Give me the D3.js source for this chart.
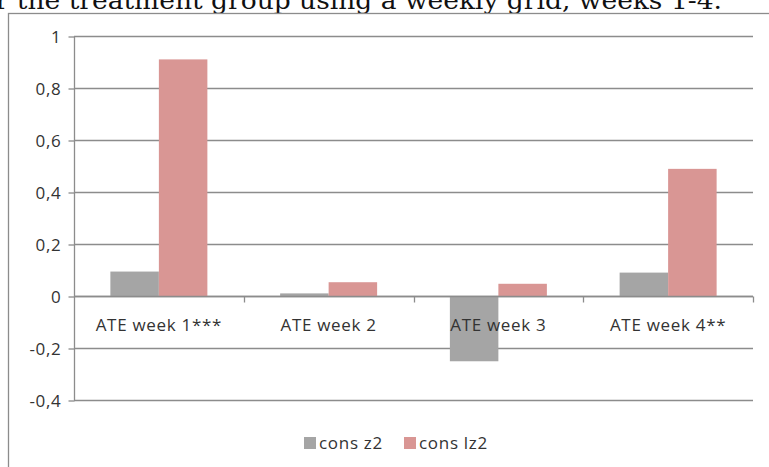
<!DOCTYPE html>
<html>
<head>
  <meta charset="utf-8">
  <title>ATE per week</title>
  <script src="https://d3js.org/d3.v7.min.js"></script>
  <style>
    body { margin: 0; background: #fff; }
    svg { display: block; }
    .lbl { font-family: "Open Sans", sans-serif; font-size: 17px; letter-spacing: 0.7px; fill: #333; }
  </style>
</head>
<body>
  <svg id="main-svg"></svg>

  <script type="text/javascript">
    const svg_width = 769;
    const svg_height = 467;

    // data
    const categories = ["ATE week 1***", "ATE week 2", "ATE week 3", "ATE week 4**"];
    const seriesNames = ["cons z2", "cons lz2"];
    const consZ2 = [0.094, 0.01, -0.251, 0.09];
    const consLz2 = [0.91, 0.053, 0.047, 0.489];
    const yTicks = [-0.4, -0.2, 0, 0.2, 0.4, 0.6, 0.8, 1];
    const colors = ["#a5a5a5", "#d99694"];

    var margin = { top: 36, right: 16, bottom: 67, left: 74 };

    var svg = d3.select("#main-svg")
      .attr("width", svg_width)
      .attr("height", svg_height);

    // caption line from the page above, cut off at the top
    svg.append("text")
      .attr("x", 722)
      .attr("y", 9)
      .attr("text-anchor", "end")
      .style("font-family", "'DejaVu Serif', serif")
      .style("font-size", "25px")
      .style("fill", "#111")
      .attr("textLength", 752)
      .attr("lengthAdjust", "spacingAndGlyphs")
      .text("for the treatment group using a weekly grid, weeks 1-4.");

    // chart frame (runs off the right and bottom edges)
    svg.append("rect")
      .attr("x", 8.5)
      .attr("y", 13.5)
      .attr("width", 800)
      .attr("height", 500)
      .attr("fill", "none")
      .attr("stroke", "#8c8c8c")
      .attr("stroke-width", 1.3);

    var x0 = d3.scaleBand()
      .domain(categories)
      .range([margin.left, svg_width - margin.right]);

    var bw = x0.bandwidth();
    var barW = bw / 3.5; // excel gap width 150%

    var x1 = d3.scaleBand()
      .domain(seriesNames)
      .range([0.75 * barW, bw - 0.75 * barW]);

    var y = d3.scaleLinear()
      .domain([-0.4, 1])
      .range([svg_height - margin.bottom, margin.top]);

    var locale = d3.formatLocale({
      decimal: ",",
      thousands: ".",
      grouping: [3],
      currency: ["", ""],
      minus: "-"
    });
    var fmt = locale.format(".1~f");

    // horizontal grid lines
    svg.append("g")
      .selectAll("line")
      .data(yTicks)
      .enter().append("line")
      .attr("x1", margin.left)
      .attr("x2", svg_width - margin.right)
      .attr("y1", d => Math.round(y(d)) + 0.5)
      .attr("y2", d => Math.round(y(d)) + 0.5)
      .attr("stroke", "#8c8c8c")
      .attr("stroke-width", 1.3);

    // y axis
    var yAxis = d3.axisLeft(y)
      .tickValues(yTicks)
      .tickSize(6)
      .tickPadding(7)
      .tickFormat(fmt);

    var gy = svg.append("g")
      .attr("transform", "translate(" + (margin.left + 0.5) + ",0.5)")
      .call(yAxis);
    gy.select(".domain").attr("stroke", "#8c8c8c").attr("stroke-width", 1.3)
      .attr("d", "M0," + y(1) + "V" + y(-0.4));
    gy.selectAll(".tick line").attr("stroke", "#8c8c8c").attr("stroke-width", 1.3);
    gy.selectAll(".tick text").attr("class", "lbl").attr("dy", "0.35em");

    // bars
    var series = [consZ2, consLz2];
    var groups = svg.append("g")
      .selectAll("g")
      .data(categories)
      .enter().append("g")
      .attr("transform", d => "translate(" + x0(d) + ",0)");

    groups.selectAll("rect")
      .data((c, i) => seriesNames.map((s, k) => ({ s: s, k: k, v: series[k][i] })))
      .enter().append("rect")
      .attr("x", d => x1(d.s))
      .attr("width", x1.bandwidth())
      .attr("y", d => y(Math.max(0, d.v)))
      .attr("height", d => Math.abs(y(d.v) - y(0)))
      .attr("fill", d => colors[d.k]);

    // category axis on the zero line
    var xAxis = d3.axisBottom(x0)
      .tickSize(0)
      .tickPadding(0);

    var gx = svg.append("g")
      .attr("transform", "translate(0," + (Math.round(y(0)) + 0.5) + ")")
      .call(xAxis);
    gx.select(".domain").attr("stroke", "#8c8c8c").attr("stroke-width", 1.3)
      .attr("d", "M" + margin.left + ",0H" + (svg_width - margin.right));
    gx.selectAll(".tick text").attr("class", "lbl").attr("y", 34).attr("dy", 0);

    // tick marks between categories
    gx.selectAll(".sep")
      .data(categories)
      .enter().append("line")
      .attr("class", "sep")
      .attr("x1", d => Math.round(x0(d) + bw) + 0.5)
      .attr("x2", d => Math.round(x0(d) + bw) + 0.5)
      .attr("y1", 0)
      .attr("y2", 6)
      .attr("stroke", "#8c8c8c")
      .attr("stroke-width", 1.3);

    // legend
    var legend = svg.append("g")
      .attr("transform", "translate(304,437)");

    var legendX = [0, 100];
    var item = legend.selectAll("g")
      .data(seriesNames)
      .enter().append("g")
      .attr("transform", (d, i) => "translate(" + legendX[i] + ",0)");

    item.append("rect")
      .attr("width", 12)
      .attr("height", 12)
      .attr("fill", (d, i) => colors[i]);

    item.append("text")
      .attr("class", "lbl")
      .attr("x", 15)
      .attr("y", 12)
      .text(d => d);
  </script>
</body>
</html>
